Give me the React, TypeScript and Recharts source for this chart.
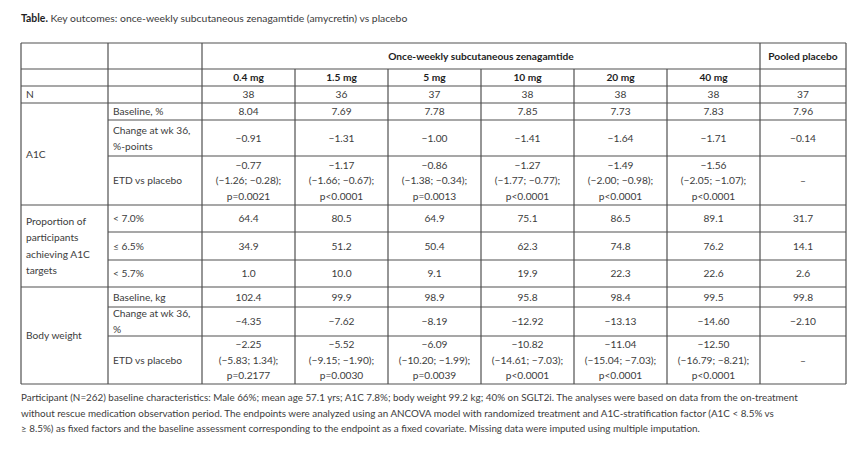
import React from 'react';
import { Surface, Layer, Text } from 'recharts';

// ---- Data ----
const groupHeader = 'Once-weekly subcutaneous zenagamtide';
const placeboHeader = 'Pooled placebo';
const doses = ['0.4 mg', '1.5 mg', '5 mg', '10 mg', '20 mg', '40 mg'];
const nValues = ['38', '36', '37', '38', '38', '38', '37'];
const a1cBaseline = ['8.04', '7.69', '7.78', '7.85', '7.73', '7.83', '7.96'];
const a1cChange = ['−0.91', '−1.31', '−1.00', '−1.41', '−1.64', '−1.71', '−0.14'];
const a1cEtd = ['−0.77', '−1.17', '−0.86', '−1.27', '−1.49', '−1.56'];
const a1cEtdCi = ['(−1.26; −0.28);', '(−1.66; −0.67);', '(−1.38; −0.34);', '(−1.77; −0.77);', '(−2.00; −0.98);', '(−2.05; −1.07);'];
const a1cEtdP = ['p=0.0021', 'p<0.0001', 'p=0.0013', 'p<0.0001', 'p<0.0001', 'p<0.0001'];
const below70 = ['64.4', '80.5', '64.9', '75.1', '86.5', '89.1', '31.7'];
const atOrBelow65 = ['34.9', '51.2', '50.4', '62.3', '74.8', '76.2', '14.1'];
const below57 = ['1.0', '10.0', '9.1', '19.9', '22.3', '22.6', '2.6'];
const bwBaseline = ['102.4', '99.9', '98.9', '95.8', '98.4', '99.5', '99.8'];
const bwChange = ['−4.35', '−7.62', '−8.19', '−12.92', '−13.13', '−14.60', '−2.10'];
const bwEtd = ['−2.25', '−5.52', '−6.09', '−10.82', '−11.04', '−12.50'];
const bwEtdCi = ['(−5.83; 1.34);', '(−9.15; −1.90);', '(−10.20; −1.99);', '(−14.61; −7.03);', '(−15.04; −7.03);', '(−16.79; −8.21);'];
const bwEtdP = ['p=0.2177', 'p=0.0030', 'p=0.0039', 'p<0.0001', 'p<0.0001', 'p<0.0001'];
const placeboEtd = '–';

const titleBold = 'Table.';
const titleRest = ' Key outcomes: once-weekly subcutaneous zenagamtide (amycretin) vs placebo';
const footnote = [
  'Participant (N=262) baseline characteristics: Male 66%; mean age 57.1 yrs; A1C 7.8%; body weight 99.2 kg; 40% on SGLT2i. The analyses were based on data from the on-treatment',
  'without rescue medication observation period. The endpoints were analyzed using an ANCOVA model with randomized treatment and A1C-stratification factor (A1C < 8.5% vs',
  '≥ 8.5%) as fixed factors and the baseline assessment corresponding to the endpoint as a fixed covariate. Missing data were imputed using multiple imputation.',
];

// ---- Layout ----
const W = 860;
const H = 456;
const FONT = 'Lato, "Open Sans", sans-serif';
const FS = 10.2;
const FS_TITLE = 10.4;
const FS_NOTE = 9.85;
const TXT = '#3c3c3c';
const BOLD = '#1e1e1e';
const LINE = '#505050';
const colX = [21, 108, 202, 295, 388, 481, 574, 667, 760, 846];
const rowY = [43, 69, 86, 103, 120, 156, 205, 232, 260, 287, 307, 336, 384];
const LH = 15.5;

type Row = { top: number; bottom: number; label: string[]; vals: string[][] };

const combine = (etd: string[], ci: string[], p: string[]) =>
  etd.map((v, i) => [v, ci[i], p[i]]).concat([[placeboEtd]]);
const single = (a: string[]) => a.map((v) => [v]);

const bodyRows: Row[] = [
  { top: rowY[3], bottom: rowY[4], label: ['Baseline, %'], vals: single(a1cBaseline) },
  { top: rowY[4], bottom: rowY[5], label: ['Change at wk 36,', '%-points'], vals: single(a1cChange) },
  { top: rowY[5], bottom: rowY[6], label: ['ETD  vs placebo'], vals: combine(a1cEtd, a1cEtdCi, a1cEtdP) },
  { top: rowY[6], bottom: rowY[7], label: ['< 7.0%'], vals: single(below70) },
  { top: rowY[7], bottom: rowY[8], label: ['≤ 6.5%'], vals: single(atOrBelow65) },
  { top: rowY[8], bottom: rowY[9], label: ['< 5.7%'], vals: single(below57) },
  { top: rowY[9], bottom: rowY[10], label: ['Baseline, kg'], vals: single(bwBaseline) },
  { top: rowY[10], bottom: rowY[11], label: ['Change at wk 36,', '%'], vals: single(bwChange) },
  { top: rowY[11], bottom: rowY[12], label: ['ETD vs placebo'], vals: combine(bwEtd, bwEtdCi, bwEtdP) },
];

const groups = [
  { top: rowY[3], bottom: rowY[6], label: ['A1C'] },
  { top: rowY[6], bottom: rowY[9], label: ['Proportion of', 'participants', 'achieving A1C', 'targets'] },
  { top: rowY[9], bottom: rowY[12], label: ['Body weight'] },
];

const lines = (
  cx: number,
  top: number,
  bottom: number,
  items: string[],
  anchor: 'start' | 'middle',
  key: string,
  bold = false,
  lh = LH,
) => {
  const mid = (top + bottom) / 2;
  const start = mid - ((items.length - 1) * lh) / 2;
  return items.map((t, i) => (
    <Text
      key={`${key}-${i}`}
      x={cx}
      y={start + i * lh}
      textAnchor={anchor}
      verticalAnchor="middle"
      fontFamily={FONT}
      fontSize={FS}
      fontWeight={bold ? 700 : 400}
      fill={bold ? BOLD : TXT}
    >
      {t}
    </Text>
  ));
};

const hLine = (y: number, x1: number, x2: number, k: string) => (
  <line key={k} x1={x1} x2={x2} y1={y} y2={y} stroke={LINE} strokeWidth={1.2} />
);
const vLine = (x: number, y1: number, y2: number, k: string) => (
  <line key={k} x1={x} x2={x} y1={y1} y2={y2} stroke={LINE} strokeWidth={1.2} />
);

export default function App() {
  const dataCols = colX.slice(2); // 8 boundaries for 7 data columns
  const colCenter = (i: number) => (dataCols[i] + dataCols[i + 1]) / 2;
  const tableBottom = rowY[rowY.length - 1];

  const full = [rowY[0], rowY[1], rowY[2], rowY[3], rowY[6], rowY[9], rowY[12]];
  const partial = [rowY[4], rowY[5], rowY[7], rowY[8], rowY[10], rowY[11]];

  return (
    <div style={{ position: 'absolute', left: 0, top: 0, width: W, height: H, background: '#ffffff' }}>
      <Surface width={W} height={H} viewBox={{ x: 0, y: 0, width: W, height: H }}>
        <Layer>
          <text x={21} y={19} dominantBaseline="middle" fontFamily={FONT} fontSize={FS_TITLE} fill={TXT}>
            <tspan fontWeight={700} fill={BOLD}>{titleBold}</tspan>
            <tspan>{titleRest}</tspan>
          </text>
        </Layer>
        <Layer>
          {full.map((y, i) => hLine(y, colX[0], colX[9], `hf${i}`))}
          {partial.map((y, i) => hLine(y, colX[1], colX[9], `hp${i}`))}
          {[0, 1, 2, 8, 9].map((c) => vLine(colX[c], rowY[0], tableBottom, `vf${c}`))}
          {[3, 4, 5, 6, 7].map((c) => vLine(colX[c], rowY[1], tableBottom, `vp${c}`))}
        </Layer>
        <Layer>
          {lines((colX[2] + colX[8]) / 2, rowY[0], rowY[1], [groupHeader], 'middle', 'gh', true)}
          {lines((colX[8] + colX[9]) / 2, rowY[0], rowY[1], [placeboHeader], 'middle', 'ph', true)}
          {doses.map((d, i) => lines(colCenter(i), rowY[1], rowY[2], [d], 'middle', `dose${i}`, true))}
          {lines(colX[0] + 5, rowY[2], rowY[3], ['N'], 'start', 'nlabel')}
          {nValues.map((v, i) => lines(colCenter(i), rowY[2], rowY[3], [v], 'middle', `n${i}`))}
          {groups.map((g, gi) => lines(colX[0] + 5, g.top, g.bottom, g.label, 'start', `g${gi}`, false, 16.5))}
          {bodyRows.map((r, ri) => (
            <Layer key={`r${ri}`}>
              {lines(colX[1] + 5, r.top, r.bottom, r.label, 'start', `rl${ri}`, false, 16)}
              {r.vals.map((v, ci) => lines(colCenter(ci), r.top, r.bottom, v, 'middle', `rv${ri}-${ci}`))}
            </Layer>
          ))}
        </Layer>
        <Layer>
          {footnote.map((t, i) => (
            <Text
              key={`fn${i}`}
              x={21}
              y={398 + i * 15.3}
              verticalAnchor="middle"
              fontFamily={FONT}
              fontSize={FS_NOTE}
              fill={TXT}
            >
              {t}
            </Text>
          ))}
        </Layer>
      </Surface>
    </div>
  );
}
